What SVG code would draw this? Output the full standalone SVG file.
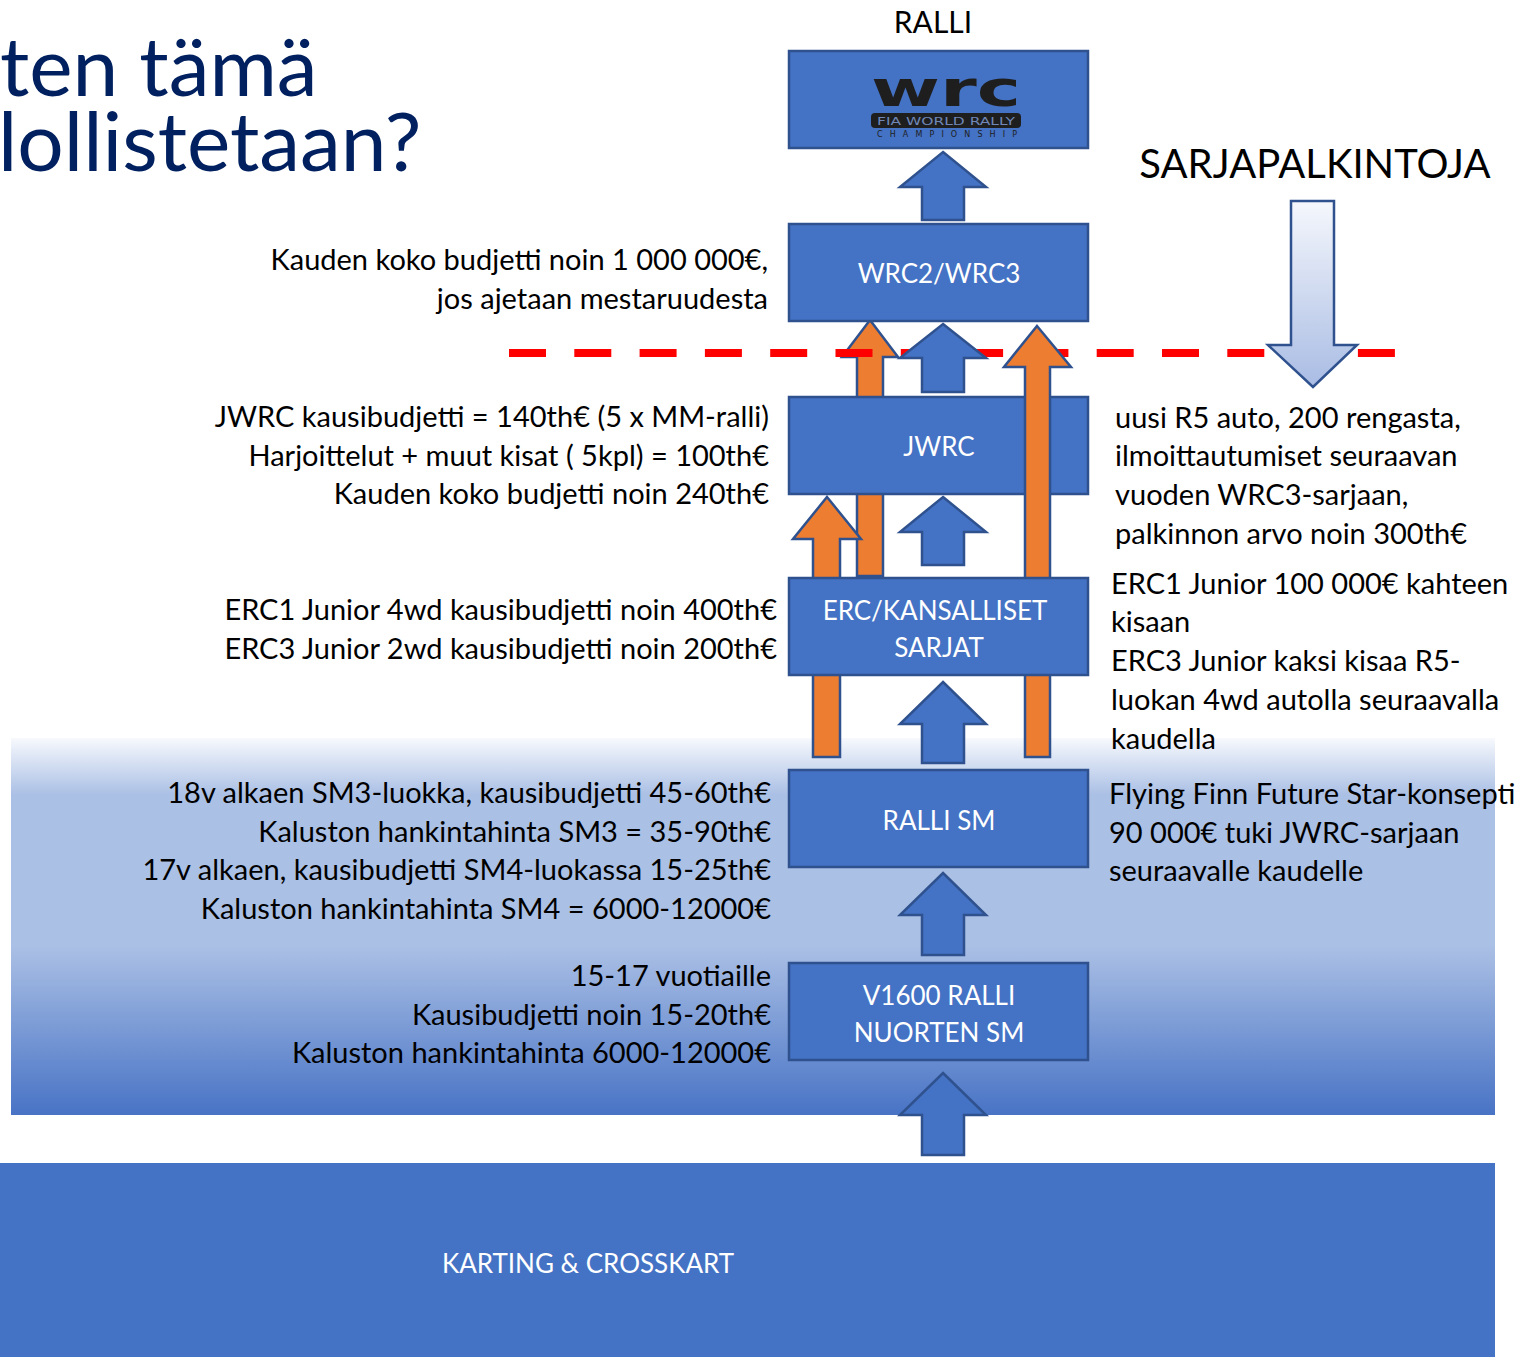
<svg xmlns="http://www.w3.org/2000/svg" width="1522" height="1357" viewBox="0 0 1522 1357">
<defs>
<linearGradient id="band" x1="0" y1="0" x2="0" y2="1">
<stop offset="0" stop-color="#f7f9fd"/>
<stop offset="0.15" stop-color="#abc0e5"/>
<stop offset="0.55" stop-color="#abc0e5"/>
<stop offset="1" stop-color="#4873c5"/>
</linearGradient>
<linearGradient id="down" x1="0" y1="0" x2="0" y2="1">
<stop offset="0" stop-color="#f5f7fc"/>
<stop offset="1" stop-color="#a9bce4"/>
</linearGradient>
<style>
.box{fill:#4472C4;stroke:#2F528F;stroke-width:2.5}
.blu{fill:#4472C4;stroke:#2F528F;stroke-width:2.5;stroke-linejoin:miter}
.org{fill:#ED7D31;stroke:#2F528F;stroke-width:2.5}
.t{font-family:Lato,"Open Sans","Liberation Sans",sans-serif;font-size:29px;fill:#000}
.w{font-family:Lato,"Open Sans","Liberation Sans",sans-serif;font-size:26px;fill:#fff;text-anchor:middle}
.e{text-anchor:end}
</style>
</defs>
<rect x="11" y="738" width="1484" height="377" fill="url(#band)"/>
<g id="karting">
<rect x="0" y="1163" width="1495" height="194" fill="#4472C4"/>
<text class="w" x="588" y="1273">KARTING &amp; CROSSKART</text>
</g>
<g id="title">
<text x="0" y="96" font-family="Lato,'Open Sans','Liberation Sans',sans-serif" font-size="82" fill="#002060">ten tämä</text>
<text x="-2" y="171" font-family="Lato,'Open Sans','Liberation Sans',sans-serif" font-size="82" fill="#002060">lollistetaan?</text>
</g>
<g id="orange-back">
<path class="org" d="M870,320 L898,357 L883,357 L883,576 L857,576 L857,357 L842,357 Z"/>
<path class="org" d="M827,497 L861,539 L840,539 L840,757 L813,757 L813,539 L793,539 Z"/>
</g>
<line x1="509" y1="353" x2="1396" y2="353" stroke="#FF0000" stroke-width="8" stroke-dasharray="37 28.3"/>
<g id="connectors">
<path class="blu" d="M943,152 L986,187 L964,187 L964,220 L922,220 L922,187 L900,187 Z"/>
<path class="blu" d="M943,324 L986,358 L964,358 L964,392 L922,392 L922,358 L900,358 Z"/>
<path class="blu" d="M943,497 L986,532 L964,532 L964,565 L922,565 L922,532 L900,532 Z"/>
<path class="blu" d="M943,682 L986,724 L964,724 L964,763 L922,763 L922,724 L900,724 Z"/>
<path class="blu" d="M943,873 L986,915 L964,915 L964,955 L922,955 L922,915 L900,915 Z"/>
<path class="blu" d="M943,1073 L986,1115 L964,1115 L964,1155 L922,1155 L922,1115 L900,1115 Z"/>
</g>
<g id="jwrc">
<rect class="box" x="789" y="397" width="299" height="97"/>
<text class="w" x="939" y="456">JWRC</text>
</g>
<g id="orange-front">
<path class="org" d="M1037,326 L1071,367 L1050,367 L1050,757 L1025,757 L1025,367 L1004,367 Z"/>
</g>
<g id="wrc">
<rect class="box" x="789" y="51" width="299" height="97"/>
<text x="871" y="106" font-family="'DejaVu Sans',sans-serif" font-weight="bold" font-size="50" fill="#1e1e1e" textLength="150" lengthAdjust="spacingAndGlyphs">wrc</text>
<rect x="871" y="113" width="150" height="15" rx="4" fill="#1e1e1e"/>
<text x="877" y="125" font-family="'DejaVu Sans',sans-serif" font-size="11" fill="#6f86b6" textLength="138" lengthAdjust="spacingAndGlyphs">FIA WORLD RALLY</text>
<text x="877" y="137" font-family="'DejaVu Sans',sans-serif" font-size="8" fill="#1e1e1e" textLength="140" lengthAdjust="spacing">CHAMPIONSHIP</text>
</g>
<g id="wrc2">
<rect class="box" x="789" y="224" width="299" height="97"/>
<text class="w" x="939" y="283">WRC2/WRC3</text>
</g>
<g id="erc">
<rect class="box" x="789" y="578" width="299" height="97"/>
<text class="w" x="935" y="620">ERC/KANSALLISET</text>
<text class="w" x="939" y="657">SARJAT</text>
</g>
<g id="rallism">
<rect class="box" x="789" y="770" width="299" height="97"/>
<text class="w" x="939" y="830">RALLI SM</text>
</g>
<g id="v1600">
<rect class="box" x="789" y="963" width="299" height="97"/>
<text class="w" x="939" y="1005">V1600 RALLI</text>
<text class="w" x="939" y="1042">NUORTEN SM</text>
</g>
<g id="sarjapalkintoja">
<path d="M1291,201 L1334,201 L1334,345 L1357,345 L1313,387 L1268,345 L1291,345 Z" fill="url(#down)" stroke="#2F528F" stroke-width="2.5"/>
<text x="1315" y="178" font-family="Lato,'Open Sans','Liberation Sans',sans-serif" font-size="40" text-anchor="middle" fill="#000">SARJAPALKINTOJA</text>
</g>
<text x="933" y="33" font-family="Lato,'Open Sans','Liberation Sans',sans-serif" font-size="30" text-anchor="middle" fill="#000">RALLI</text>
<g id="left-texts">
<text class="t e" x="768" y="270">Kauden koko budjetti noin 1 000 000€,</text>
<text class="t e" x="768" y="309">jos ajetaan mestaruudesta</text>
<text class="t e" x="769" y="427">JWRC kausibudjetti = 140th€ (5 x MM-ralli)</text>
<text class="t e" x="769" y="466">Harjoittelut + muut kisat ( 5kpl) = 100th€</text>
<text class="t e" x="769" y="504">Kauden koko budjetti noin 240th€</text>
<text class="t e" x="777" y="620">ERC1 Junior 4wd kausibudjetti noin 400th€</text>
<text class="t e" x="777" y="659">ERC3 Junior 2wd kausibudjetti noin 200th€</text>
<text class="t e" x="771" y="803">18v alkaen SM3-luokka, kausibudjetti 45-60th€</text>
<text class="t e" x="771" y="842">Kaluston hankintahinta SM3 = 35-90th€</text>
<text class="t e" x="771" y="880">17v alkaen, kausibudjetti SM4-luokassa 15-25th€</text>
<text class="t e" x="771" y="919">Kaluston hankintahinta SM4 = 6000-12000€</text>
<text class="t e" x="771" y="986">15-17 vuotiaille</text>
<text class="t e" x="771" y="1025">Kausibudjetti noin 15-20th€</text>
<text class="t e" x="771" y="1063">Kaluston hankintahinta 6000-12000€</text>
</g>
<g id="right-texts">
<text class="t" x="1115" y="428">uusi R5 auto, 200 rengasta,</text>
<text class="t" x="1115" y="466">ilmoittautumiset seuraavan</text>
<text class="t" x="1115" y="505">vuoden WRC3-sarjaan,</text>
<text class="t" x="1115" y="544">palkinnon arvo noin 300th€</text>
<text class="t" x="1111" y="594">ERC1 Junior 100 000€ kahteen</text>
<text class="t" x="1111" y="632">kisaan</text>
<text class="t" x="1111" y="671">ERC3 Junior kaksi kisaa R5-</text>
<text class="t" x="1111" y="710">luokan 4wd autolla seuraavalla</text>
<text class="t" x="1111" y="749">kaudella</text>
<text class="t" x="1109" y="804">Flying Finn Future Star-konsepti</text>
<text class="t" x="1109" y="843">90 000€ tuki JWRC-sarjaan</text>
<text class="t" x="1109" y="881">seuraavalle kaudelle</text>
</g>
</svg>
